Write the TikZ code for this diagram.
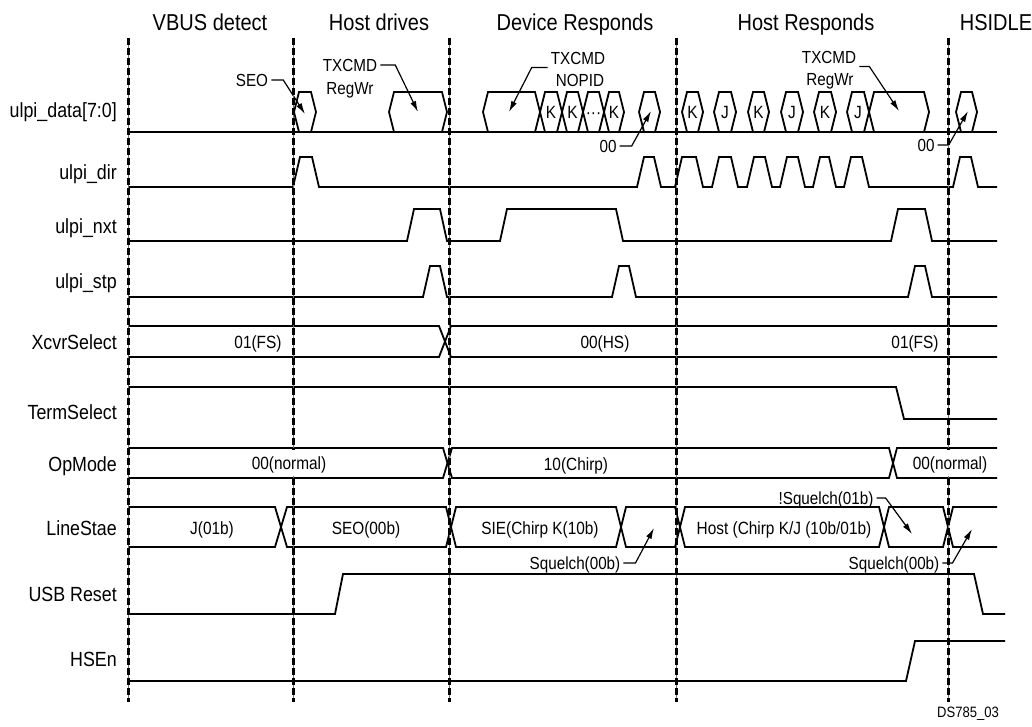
\documentclass[tikz,border=0pt]{standalone}
\usepackage{fontspec}
\setmainfont{Liberation Sans}[FakeStretch=0.87]
\usetikzlibrary{arrows.meta}

% one data bubble on the ulpi_data row: [label]{left x}{right x}
\newcommand{\bubble}[3][]{%
  \draw[sig] (#2,112) -- (#2+5,92) -- (#3-5,92) -- (#3,112) -- (#3-5,132) -- (#2+5,132) -- cycle;
  \node[val] at ({(#2+#3)/2},112) {#1};}

\begin{document}
\begin{tikzpicture}[
  x=1pt, y=-1pt,
  sig/.style={line width=1.8pt, line join=miter},
  phase/.style={font=\fontsize{23}{27}\selectfont, inner sep=0pt, text height=16.5pt, text depth=0pt},
  signame/.style={anchor=east, font=\fontsize{20.5}{24}\selectfont, inner sep=0pt, text height=14.7pt, text depth=0pt},
  val/.style={font=\fontsize{17.7}{21}\selectfont, inner sep=0pt, text height=12.7pt, text depth=0pt},
  note/.style={font=\fontsize{17.5}{21}\selectfont, inner sep=3pt, text height=12.5pt, text depth=0pt},
  lead/.style={line width=1.2pt, -{Latex[length=11pt,width=6pt]}},
  phaseline/.style={line width=3pt, dash pattern=on 7pt off 3pt},
  gapval/.style={val, fill=white, inner xsep=1pt, inner ysep=6.5pt},
]
\useasboundingbox (0,0) rectangle (1032,726);

% --- phase headers ---
\node[phase] (ph1) at (210,22) {VBUS detect};
\node[phase] (ph2) at (379,22) {Host drives};
\node[phase] (ph3) at (575,22) {Device Responds};
\node[phase] (ph4) at (806,22) {Host Responds};
\node[phase] (ph5) at (996,22) {HSIDLE};

% --- signal names ---
\node[signame] (nData) at (117,110) {ulpi\_data[7:0]};
\node[signame] (nDir)  at (117,172) {ulpi\_dir};
\node[signame] (nNxt)  at (117,226) {ulpi\_nxt};
\node[signame] (nStp)  at (117,281) {ulpi\_stp};
\node[signame] (nXcvr) at (117,342) {XcvrSelect};
\node[signame] (nTerm) at (117,412) {TermSelect};
\node[signame] (nOpm)  at (117,464) {OpMode};
\node[signame] (nLine) at (117,528) {LineStae};
\node[signame] (nRst)  at (117,594) {USB Reset};
\node[signame] (nHsen) at (117,659) {HSEn};

% --- ulpi_data ---
\draw[sig] (128,132) -- (997,132);
\bubble{294}{316}
\bubble{389}{447}
\bubble{483}{540}
\bubble[K]{540}{562}
\bubble[K]{562}{583}
\bubble[···]{583}{604}
\bubble[K]{604}{624}
\bubble{639}{660}
\foreach \a/\b/\t in {682/703/K, 714/736/J, 748/769/K, 781/803/J, 814/836/K, 847/869/J}
  {\bubble[\t]{\a}{\b}}
\bubble{869}{929}
\bubble{956}{977}

% --- ulpi_dir, ulpi_nxt, ulpi_stp ---
\draw[sig] (128,187) foreach \a/\b in {293/319, 637/661, 675/703, 712/738, 747/772, 780/805, 813/836, 844/869, 953/978}
  { -- (\a,187) -- (\a+7,157) -- (\b-7,157) -- (\b,187)} -- (997,187);
\draw[sig] (128,241) foreach \a/\b in {407/447, 500/623, 891/932}
  { -- (\a,241) -- (\a+7,209) -- (\b-7,209) -- (\b,241)} -- (997,241);
\draw[sig] (128,297) foreach \a/\b in {423/447, 612/636, 908/932}
  { -- (\a,297) -- (\a+7,266) -- (\b-7,266) -- (\b,297)} -- (997,297);

% --- XcvrSelect ---
\draw[sig] (128,326) -- (439,326) -- (451,357) -- (997,357);
\draw[sig] (128,357) -- (439,357) -- (451,326) -- (997,326);
\node[val] (xv1) at (258,342) {01(FS)};
\node[val] (xv2) at (605,342) {00(HS)};
\node[val] (xv3) at (915,342) {01(FS)};

% --- TermSelect ---
\draw[sig] (128,387) -- (896,387) -- (904,419) -- (997,419);

% --- OpMode ---
\draw[sig] (128,448) -- (443,448) -- (452,478) -- (889,478) -- (897,448) -- (997,448);
\draw[sig] (128,478) -- (443,478) -- (452,448) -- (889,448) -- (897,478) -- (997,478);

% --- LineStae ---
\draw[sig] (128,507) -- (275,507) -- (287,547) -- (446,547) -- (456,507) -- (616,507) -- (626,547) -- (675,547)
  -- (685,507) -- (879,507) -- (889,547) -- (943,547) -- (953,507) -- (997,507);
\draw[sig] (128,547) -- (275,547) -- (287,507) -- (446,507) -- (456,547) -- (616,547) -- (626,507) -- (675,507)
  -- (685,547) -- (879,547) -- (889,507) -- (943,507) -- (953,547) -- (997,547);
\node[val] (lv1) at (212,528) {J(01b)};
\node[val] (lv2) at (366,528) {SEO(00b)};
\node[val] (lv3) at (540,528) {SIE(Chirp K(10b)};
\node[val] (lv4) at (784,528) {Host (Chirp K/J (10b/01b)};

% --- USB Reset, HSEn ---
\draw[sig] (128,614) -- (335,614) -- (343,574) -- (974,574) -- (983,614) -- (1005,614);
\draw[sig] (128,681) -- (906,681) -- (915,641) -- (1005,641);

% --- callouts ---
\node[note] (seo) at (252,80) {SEO};
\coordinate (seotip) at (305,114);
\draw[lead] (seo.east) -- ++(12,0) -- (seotip);

\node[note] (txa) at (350,65) {TXCMD};
\node[note] (txb) at (350,88) {RegWr};
\coordinate (txatip) at (418,112);
\draw[lead] (txa.east) -- ++(15,0) -- (txatip);

\node[note] (txn) at (578,58) {TXCMD};
\node[note] (nop) at (580,80) {NOPID};
\coordinate (txntip) at (509,112);
\draw[lead] (txn.south west) -- ++(-16,0) -- (txntip);

\node[note] (zda) at (608,146) {00};
\coordinate (zdatip) at (651,111);
\draw[lead] (zda.east) -- ++(12,0) -- (zdatip);

\node[note] (txc) at (829,57) {TXCMD};
\node[note] (txd) at (830,79) {RegWr};
\coordinate (txctip) at (899,111);
\draw[lead] (txc.south east) -- ++(10,0) -- (txctip);

\node[note] (zdb) at (926,145) {00};
\coordinate (zdbtip) at (968,111);
\draw[lead] (zdb.east) -- ++(11,0) -- (zdbtip);

\node[note] (sqa) at (575,563) {Squelch(00b)};
\coordinate (sqatip) at (654,528);
\draw[lead] (sqa.east) -- ++(12,0) -- (sqatip);

\node[note] (nsq) at (826,498) {!Squelch(01b)};
\coordinate (nsqtip) at (912,534);
\draw[lead] (nsq.east) -- ++(9,0) -- (nsqtip);

\node[note] (sqb) at (894,563) {Squelch(00b)};
\coordinate (sqbtip) at (972,529);
\draw[lead] (sqb.east) -- ++(10,0) -- (sqbtip);

% --- phase boundaries ---
\foreach \px in {128,293,449,676,948} {
  \draw[black!55, line width=0.8pt] (\px,38) -- (\px,702);
  \draw[phaseline] (\px,38) -- (\px,702);
}

% OpMode values sit over the boundaries
\node[gapval] (ov1) at (289,463) {00(normal)};
\node[val] (ov2) at (576,464) {10(Chirp)};
\node[gapval] (ov3) at (950,463) {00(normal)};

\node[font=\fontsize{15}{17}\selectfont] (dsid) at (968,714) {DS785\_03};
\end{tikzpicture}
\end{document}
